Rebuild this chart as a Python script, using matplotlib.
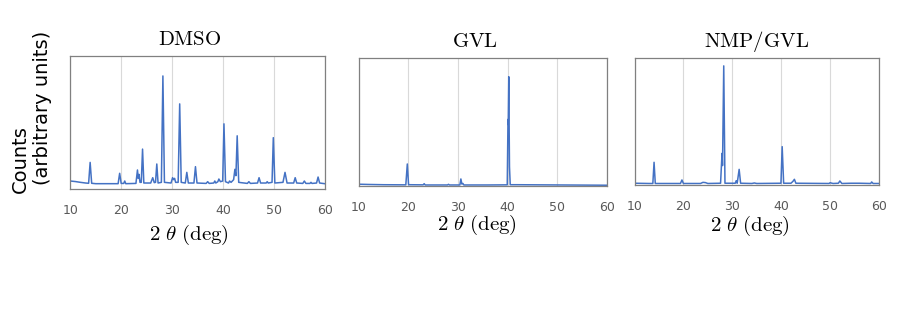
import matplotlib
matplotlib.use("Agg")
import matplotlib.pyplot as plt

plt.rcParams['mathtext.fontset'] = 'cm'
plt.rcParams['font.family'] = ['DejaVu Sans']

LINE = '#4472C4'
GRID = '#D9D9D9'
SPINE = '#808080'
TICK = '#595959'

# diffractogramas leidos punto a punto (2theta, cuentas relativas)
dmso_x = [10.0, 11.0, 12.0, 13.0, 13.6, 13.9, 14.2, 15.0, 19.4, 19.7, 20.0, 20.5, 20.7, 20.9,
          22.9, 23.2, 23.35, 23.5, 23.7, 23.95, 24.2, 24.45, 25.8, 26.2, 26.5, 26.75, 27.0, 27.25,
          27.9, 28.2, 28.5, 29.8, 30.1, 30.3, 30.5, 30.7, 31.2, 31.5, 31.8, 32.6, 32.9, 33.2,
          34.3, 34.6, 34.9, 36.7, 37.0, 37.3, 38.2, 38.4, 38.6, 39.0, 39.2, 39.5, 39.95, 40.2,
          40.5, 41.1, 41.3, 41.6, 42.1, 42.35, 42.55, 42.8, 43.1, 44.8, 45.1, 45.4, 46.8, 47.1,
          47.4, 48.5, 48.7, 48.9, 49.65, 49.9, 50.2, 51.8, 52.2, 52.6, 53.9, 54.2, 54.5, 55.7,
          56.0, 56.3, 57.1, 57.3, 57.5, 58.4, 58.7, 59.0, 60.0]
dmso_y = [6.0, 5.6, 5.0, 4.5, 4.3, 20.0, 4.3, 4.0, 4.0, 11.8, 4.2, 4.2, 6.0, 4.0,
          4.2, 14.3, 8.0, 11.0, 5.0, 5.0, 30.0, 4.5, 4.5, 8.5, 4.8, 5.0, 18.8, 4.5,
          5.0, 85.0, 5.0, 4.5, 8.5, 7.0, 8.0, 5.0, 5.0, 64.0, 5.0, 4.5, 12.5, 4.5,
          4.5, 16.8, 4.5, 4.2, 5.5, 4.2, 4.5, 6.0, 4.5, 5.5, 7.5, 5.5, 6.0, 49.0,
          5.5, 4.5, 6.0, 5.0, 7.0, 14.8, 10.0, 40.0, 5.0, 4.2, 5.5, 4.2, 4.5, 8.5,
          4.5, 4.5, 5.5, 4.5, 5.0, 38.6, 4.5, 5.0, 12.5, 4.5, 4.5, 8.5, 4.5, 4.2,
          6.0, 4.2, 4.2, 5.0, 4.2, 4.5, 9.0, 4.5, 4.0]

gvl_x = [10.0, 12.0, 15.0, 19.5, 19.8, 20.05, 23.0, 23.2, 23.4, 27.9, 28.1, 28.3, 30.4, 30.6,
         30.8, 31.0, 31.2, 36.0, 39.95, 40.1, 40.15, 40.25, 40.4, 40.55, 42.0, 60.0]
gvl_y = [1.4, 1.2, 1.0, 0.9, 17.2, 1.0, 0.9, 1.8, 0.8, 0.8, 1.3, 0.8, 0.8, 5.5,
         1.5, 2.0, 0.8, 0.8, 0.9, 52.0, 48.0, 85.4, 15.0, 1.0, 1.0, 0.6]

nmp_x = [10.0, 13.0, 13.75, 14.0, 14.25, 19.4, 19.7, 20.0, 23.5, 24.0, 24.5, 25.0, 27.6, 27.9,
         28.0, 28.25, 28.5, 30.6, 30.8, 31.0, 31.4, 31.7, 34.0, 34.5, 35.0, 39.95, 40.2, 40.5,
         42.0, 42.4, 42.7, 43.0, 49.8, 50.0, 50.6, 51.7, 52.0, 52.4, 54.3, 56.0, 58.3, 58.5,
         58.8, 60.0]
nmp_y = [1.0, 0.8, 0.8, 17.6, 0.8, 0.8, 3.6, 0.8, 0.8, 1.7, 1.5, 0.8, 1.0, 24.7,
         15.0, 94.0, 1.0, 1.0, 3.0, 1.0, 12.0, 1.0, 0.8, 1.2, 0.8, 1.0, 30.0, 1.0,
         1.0, 2.5, 4.1, 1.0, 0.8, 1.4, 0.8, 1.0, 2.8, 0.8, 1.0, 1.0, 0.8, 2.0,
         0.8, 0.8]

titles = ['DMSO', 'GVL', 'NMP/GVL']
xticks = [10, 20, 30, 40, 50, 60]

W, H = 913, 322
fig = plt.figure(figsize=(W / 100, H / 100), dpi=100)

# cajas en pixeles: izquierda, derecha, arriba, abajo
boxes = [(70.3, 324.7, 56, 189), (358.7, 606.7, 58, 186), (634.5, 879, 58.3, 184.5)]
series = [(dmso_x, dmso_y), (gvl_x, gvl_y), (nmp_x, nmp_y)]
title_x = [0.47, 0.47, 0.5]
label_x = [0.465, 0.475, 0.47]
label_pad = [4, -1, 1]

for (l, r, t, b), (xs, ys), name, tx, lx, lp in zip(boxes, series, titles, title_x, label_x, label_pad):
    ax = fig.add_axes([l / W, 1 - b / H, (r - l) / W, (b - t) / H])
    ax.plot(xs, ys, color=LINE, lw=1.1)
    ax.set_xlim(10, 60)
    ax.set_ylim(0, 100)
    ax.set_xticks(xticks)
    ax.set_yticks([])
    ax.grid(axis='x', color=GRID, lw=0.8)
    ax.set_axisbelow(True)
    for s in ax.spines.values():
        s.set_color(SPINE)
        s.set_linewidth(0.9)
    ax.tick_params(axis='x', length=0, pad=11, labelsize=9, labelcolor=TICK)
    ax.set_title(r'$\mathrm{' + name + '}$', fontsize=15, x=tx, pad=8)
    ax.set_xlabel(r'$2\ \theta\ (\mathrm{deg})$', fontsize=15, labelpad=lp, x=lx)

# etiqueta vertical en dos renglones
fig.text(20.5 / W, 1 - 193 / H, 'Counts', rotation=90, ha='center', va='bottom', fontsize=14)
fig.text(43 / W, 1 - 185 / H, '(arbitrary units)', rotation=90, ha='center', va='bottom', fontsize=14)

fig.savefig('out.png', dpi=100)
